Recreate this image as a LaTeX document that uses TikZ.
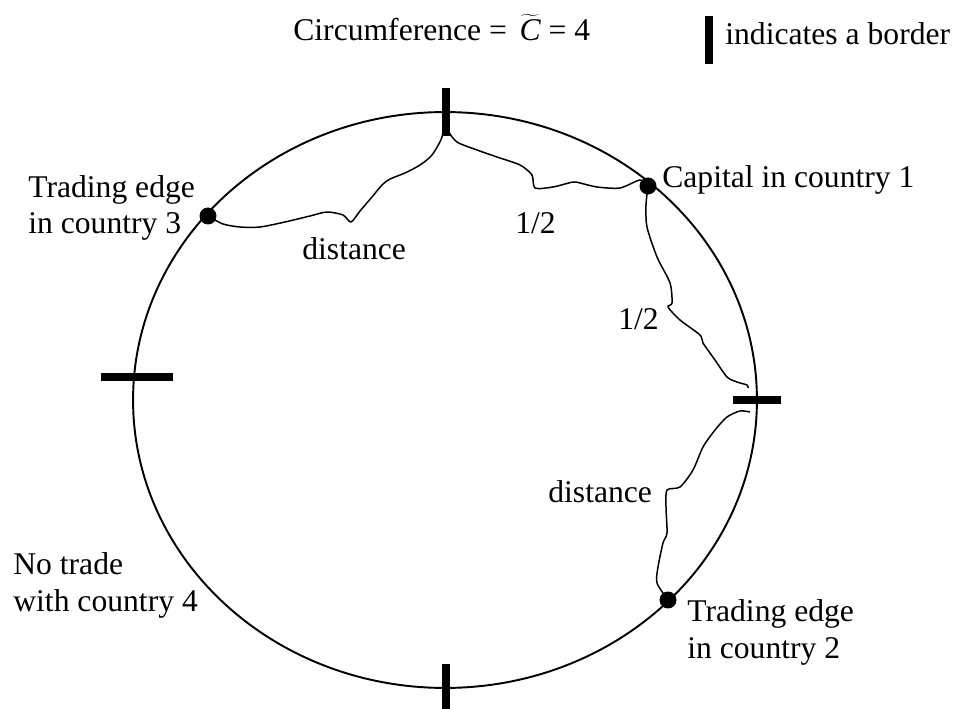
\documentclass[tikz,border=0pt]{standalone}
\usepackage{fontspec}
\setmainfont{Liberation Serif}
\usetikzlibrary{positioning}
\tikzset{
  rim/.style={draw=black, line width=1.1pt},
  route/.style={draw=black, line width=0.85pt, line join=round},
  dotC/.style={circle, fill=black, inner sep=0pt, minimum size=0.34cm},
  borderV/.style={rectangle, fill=black, inner sep=0pt,
                  minimum width=0.15cm, minimum height=0.98cm},
  borderH/.style={rectangle, fill=black, inner sep=0pt,
                  minimum width=0.96cm, minimum height=0.15cm},
  lbl/.style={inner sep=0pt, align=left,
              font=\fontsize{18}{21}\selectfont},
}

\begin{document}
\begin{tikzpicture}[x=0.02cm, y=-0.02cm]
    \useasboundingbox (0,0) rectangle (957,709);
    %% the ring of countries
    \draw[rim] (445,400) ellipse [x radius=6.24cm, y radius=5.76cm];
    %% borders
    \node[borderV] (btop) at (446,112) {};
    \node[borderV] (bbot) at (446,688) {};
    \node[borderH, minimum width=1.44cm] (bleft) at (137,377) {};
    \node[borderH] (bright) at (757,400) {};
    \coordinate (rN) at (748,388);
    \coordinate (rS) at (750,412);
    %% capital and trading edges
    \node[dotC] (cap) at (648,186) {};
    \node[dotC] (t3) at (208,216) {};
    \node[dotC] (t2) at (668,600) {};
    %% hand drawn routes
    \draw[route] plot[smooth, tension=0.45] coordinates {(t3) (223,224)
      (240,227) (260,227) (285,222) (310,216) (327,212) (343,215) (351,222)
      (360,211) (372,197) (382,185) (390,179) (405,173) (420,165) (432,155)
      (442,137) (btop)};
    \draw[route] plot[smooth, tension=0.45] coordinates {(btop) (448,130)
      (457,142) (477,150) (497,157) (520,165) (532,175) (535,188) (553,187)
      (573,182) (580,183) (597,187) (620,188) (640,180) (cap)};
    \draw[route] plot[smooth, tension=0.45] coordinates {(cap) (646,205)
      (647,227) (657,257) (670,283) (672,303) (668,307) (680,320) (700,335)
      (703,343) (715,360) (727,377) (737,382) (747,385) (rN)};
    \draw[route] plot[smooth, tension=0.45] coordinates {(rS) (740,411)
      (727,417) (715,430) (703,447) (693,470) (680,487) (667,490) (666,507)
      (667,533) (663,543) (658,567) (657,583) (t2)};
    %% labels (base = baseline of the last line)
    \node[lbl, anchor=base west] (title) at (293,41)
      {Circumference =\hspace{0.4em}$\widetilde{\mbox{\itshape C}}$ = 4};
    \node[borderV, minimum width=0.16cm, minimum height=0.96cm] (key) at (709,40) {};
    \node[lbl, anchor=base west] (keyL) at (725,45) {indicates a border};
    \node[lbl, anchor=base west] (capL) at (662,188) {Capital in country 1};
    \node[lbl, anchor=base west] (t3L) at (28,234) {Trading edge\\in country 3};
    \node[lbl, anchor=base west] (t2L) at (687,658) {Trading edge\\in country 2};
    \node[lbl, anchor=base west] (t4L) at (13,611) {No trade\\with country 4};
    \node[lbl, anchor=base west] (dA) at (302,260) {distance};
    \node[lbl, anchor=base west] (dB) at (548,502) {distance};
    \node[lbl, anchor=base west] (hA) at (515,234) {1/2};
    \node[lbl, anchor=base west] (hB) at (618,330) {1/2};
  \end{tikzpicture}
\end{document}
